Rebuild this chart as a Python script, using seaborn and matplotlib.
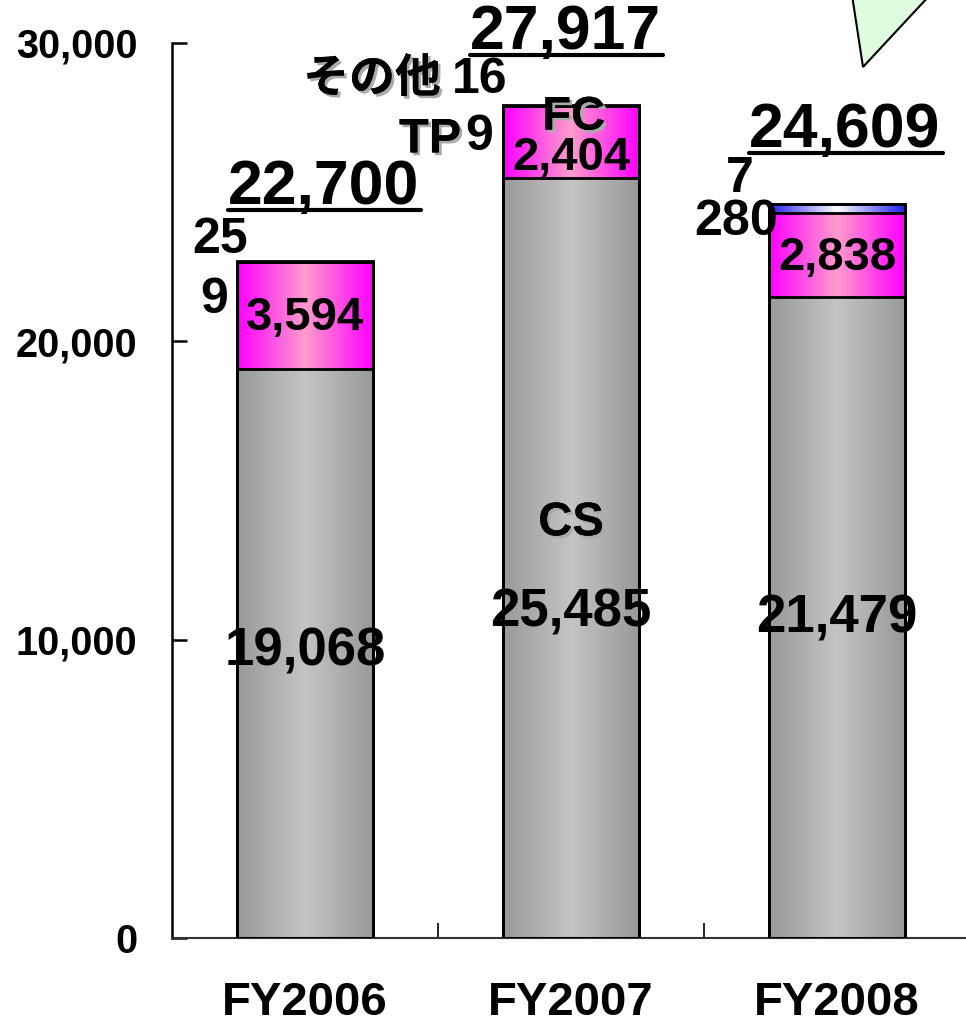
import matplotlib
matplotlib.use("Agg")
import matplotlib.pyplot as plt
import matplotlib.patheffects as pe
from matplotlib.colors import LinearSegmentedColormap
from matplotlib.lines import Line2D
from matplotlib.patches import Polygon
import numpy as np
import seaborn as sns

# Data
years = ['FY2006', 'FY2007', 'FY2008']
cs = [19068, 25485, 21479]
fc = [3594, 2404, 2838]
tp = [9, 9, 280]
other = [25, 16, 7]
totals = [22700, 27917, 24609]
yticks = [0, 10000, 20000, 30000]

sns.set_style('white')
plt.rcParams['font.family'] = ['Liberation Sans', 'Noto Sans CJK JP']
plt.rcParams['font.weight'] = 'bold'
for key in ['text.color', 'axes.labelcolor', 'xtick.color', 'ytick.color']:
    plt.rcParams[key] = 'black'

fig = plt.figure(figsize=(9.66, 10.26), dpi=100)
ax = fig.add_axes([172 / 966, 88 / 1026, 798 / 966, 895 / 1026])

# gradient colours (edge -> centre -> edge)
layers = [
    ('CS', cs, ['#999999', '#c4c4c4', '#999999']),
    ('FC', fc, ['#ff00ff', '#ff9ccc', '#ff00ff']),
    ('TP', tp, ['#2020ff', '#ffffff', '#2020ff']),
    ('その他', other, ['#ffff66', '#ffffcc', '#ffff66']),
]

cum = np.cumsum([l[1] for l in layers], axis=0)
grad = np.linspace(0, 1, 256).reshape(1, -1)

# draw from the tallest stack down, so each segment boundary gets an edge
for k in range(len(layers) - 1, -1, -1):
    n0 = len(ax.patches)
    sns.barplot(x=years, y=cum[k], fill=False, color='black', linewidth=2,
                width=0.51, ax=ax, zorder=3)
    bottoms = cum[k - 1] if k > 0 else np.zeros(len(years))
    cmap = LinearSegmentedColormap.from_list(layers[k][0], layers[k][2])
    for i, p in enumerate(ax.patches[n0:]):
        ax.imshow(grad, cmap=cmap, aspect='auto', zorder=1,
                  extent=[p.get_x(), p.get_x() + p.get_width(), bottoms[i], cum[k][i]])

ax.set_xlim(-0.5, 2.5)
ax.set_ylim(0, 30000)

# axes styling
for s in ['top', 'right']:
    ax.spines[s].set_visible(False)
ax.spines['left'].set_linewidth(1.8)
ax.spines['left'].set_color('black')
ax.spines['bottom'].set_linewidth(1.5)
ax.spines['bottom'].set_color('#333333')
ax.set_yticks(yticks)
ax.set_yticklabels([f'{v:,}' for v in yticks])
ax.tick_params(axis='y', direction='in', length=11, width=1.8, labelsize=28.5, pad=25, left=True)
ax.set_xticks([0.5, 1.5])
ax.set_xticklabels(['', ''])
ax.set_xticks(range(len(years)), minor=True)
ax.set_xticklabels(years, minor=True, fontsize=34, fontweight='bold')
ax.tick_params(axis='x', which='major', direction='in', length=11, width=1.2, bottom=True)
ax.tick_params(axis='x', which='minor', length=0, pad=31)
ax.set_xlabel('')
ax.set_ylabel('')
for t in ax.get_yticklabels():
    t.set_fontweight('bold')

shadow = [pe.withSimplePatchShadow(offset=(2, -2), shadow_rgbFace='#aaaaaa', alpha=1), pe.Normal()]

# totals (underlined)
tot_dx = [0.07, -0.02, 0.03]
tot_texts = []
for i, v in enumerate(totals):
    tot_texts.append(ax.text(i + tot_dx[i], v + 2450, f'{v:,}', ha='center', va='center',
                             fontsize=45, fontweight='bold'))

# FC values
fc_dy = [-80, -540, -100]
for i in range(len(years)):
    ax.text(i, cs[i] + fc[i] / 2 + fc_dy[i], f'{fc[i]:,}', ha='center', va='center',
            fontsize=34, fontweight='bold')

# CS values
cs_y = [9600, 10900, 10700]
for i in range(len(years)):
    ax.text(i, cs_y[i], f'{cs[i]:,}', ha='center', va='center', fontsize=38, fontweight='bold')

# series names
ax.text(1.0, 13900, 'CS', ha='center', va='center', fontsize=34, fontweight='bold', path_effects=shadow)
ax.text(1.01, 27500, 'FC', ha='center', va='center', fontsize=34, fontweight='bold', path_effects=shadow)
ax.text(0.47, 26750, 'TP', ha='center', va='center', fontsize=35, fontweight='bold', path_effects=shadow)
ax.text(0.252, 28760, 'その他', ha='center', va='center', fontsize=33, fontweight='bold', path_effects=shadow)

# small segment values
ax.text(0.655, 28760, f'{other[1]}', ha='center', va='center', fontsize=36, fontweight='bold')
ax.text(0.655, 26850, f'{tp[1]}', ha='center', va='center', fontsize=36, fontweight='bold')
ax.text(-0.32, 23400, f'{other[0]}', ha='center', va='center', fontsize=36, fontweight='bold')
ax.text(-0.34, 21390, f'{tp[0]}', ha='center', va='center', fontsize=36, fontweight='bold')
ax.text(1.635, 25450, f'{other[2]}', ha='center', va='center', fontsize=36, fontweight='bold')
ax.text(1.62, 24000, f'{tp[2]}', ha='center', va='center', fontsize=36, fontweight='bold')

# underline the totals
fig.canvas.draw()
r = fig.canvas.get_renderer()
for t in tot_texts:
    bb = t.get_window_extent(r)
    y = bb.y0 + 7
    fig.add_artist(Line2D([bb.x0, bb.x1 + 2], [y, y], transform=None, color='black', linewidth=3))

# callout tail (top right)
W, H = 966, 1026
tri = Polygon([(852 / W, 1 + 5 / H), (863 / W, (H - 67) / H), (930 / W, 1 + 5 / H)],
              closed=True, transform=fig.transFigure, facecolor='#e0fce0', edgecolor='black',
              linewidth=1.5, clip_on=False)
fig.add_artist(tri)

fig.savefig('out.png', dpi=100)
